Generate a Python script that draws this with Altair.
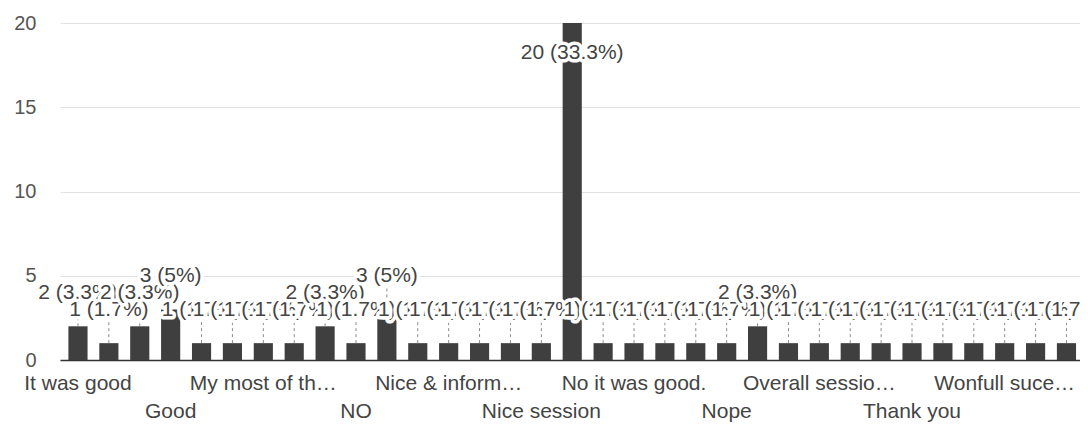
import altair as alt
import pandas as pd

categories = [
    "It was good", "Excellent", "Good session", "Good", "Great", "Informative",
    "My most of th…", "Na", "Nil", "NO", "Nice", "Nice & good",
    "Nice & inform…", "Nice explanation", "Nice program", "Nice session", "No",
    "No doubts", "No it was good.", "No queries", "None", "Nope",
    "Nothing", "Ok", "Overall sessio…", "Satisfied", "Super", "Thank you",
    "Thanks", "Useful", "Wonfull suce…", "Very useful", "Well done",
]
counts = [
    2, 1, 2, 3, 1, 1,
    1, 1, 2, 1, 3, 1,
    1, 1, 1, 1, 20,
    1, 1, 1, 1, 1,
    2, 1, 1, 1, 1, 1,
    1, 1, 1, 1, 1,
]
shown_labels = ["It was good", "Good", "My most of th…", "NO", "Nice & inform…",
                "Nice session", "No it was good.", "Nope", "Overall sessio…",
                "Thank you", "Wonfull suce…"]
second_row = ["Good", "NO", "Nice session", "Nope", "Thank you"]
y_ticks = [0, 5, 10, 15, 20]

FONT = "Liberation Sans"
TEXT = "#444444"
BAR = "#3f3f3f"

df = pd.DataFrame({"cat": categories, "count": counts})
max_count = max(counts)

row_list = ",".join("'" + s + "'" for s in second_row)
x_enc = alt.X(
    "cat:N", sort=categories,
    scale=alt.Scale(paddingInner=0.38, paddingOuter=0.2, align=0.68),
    axis=alt.Axis(
        values=shown_labels, labelAngle=0, title=None, ticks=False, grid=False,
        labelExpr="indexof([" + row_list + "], datum.value) >= 0 ? ['', datum.label] : datum.label",
        labelFont=FONT, labelFontSize=21, labelColor=TEXT, labelPadding=12,
        labelLineHeight=28, labelLimit=400, labelOverlap=False,
        domainColor="#333333", domainWidth=1.5,
    ),
)
y_enc = alt.Y(
    "count:Q",
    scale=alt.Scale(domain=[0, 20], nice=False),
    axis=alt.Axis(
        values=y_ticks, title=None, domain=False, ticks=False, grid=True,
        gridColor="#e2e2e2", gridWidth=1, labelFont=FONT, labelFontSize=20,
        labelColor="#555555", labelPadding=24,
    ),
)

base = alt.Chart(df).transform_joinaggregate(
    total="sum(count)"
).transform_calculate(
    label="datum.count + ' (' + format(datum.count / datum.total, '.1~%') + ')'"
)

bars = base.mark_bar(color=BAR).encode(x=x_enc, y=y_enc)

stems = base.transform_filter(alt.datum.count < max_count).mark_rule(
    color="#8a8a8a", strokeDash=[3, 3], strokeWidth=1, y2Offset=-24
).encode(x=x_enc, y=y_enc, y2=alt.Y2("count:Q"))

layers = [bars, stems]
for c, v in zip(categories, counts):
    dy = 30 if v == max_count else -33
    sub = base.transform_filter(alt.datum.cat == c)
    halo = sub.mark_text(
        dy=dy, font=FONT, fontSize=21, baseline="middle", align="center",
        color="white", stroke="white", strokeWidth=7, strokeJoin="round",
    ).encode(x=x_enc, y=y_enc, text="label:N")
    txt = sub.mark_text(
        dy=dy, font=FONT, fontSize=21, baseline="middle", align="center",
        color=TEXT,
    ).encode(x=x_enc, y=y_enc, text="label:N")
    layers += [halo, txt]

chart = alt.layer(*layers).properties(
    width=1020, height=337,
    autosize=alt.AutoSizeParams(type="none"),
    padding={"left": 52, "top": 15, "right": 0, "bottom": 65},
    background="white",
).configure_view(stroke=None)

chart.save("out.html", embed_options={"renderer": "svg", "actions": False})
